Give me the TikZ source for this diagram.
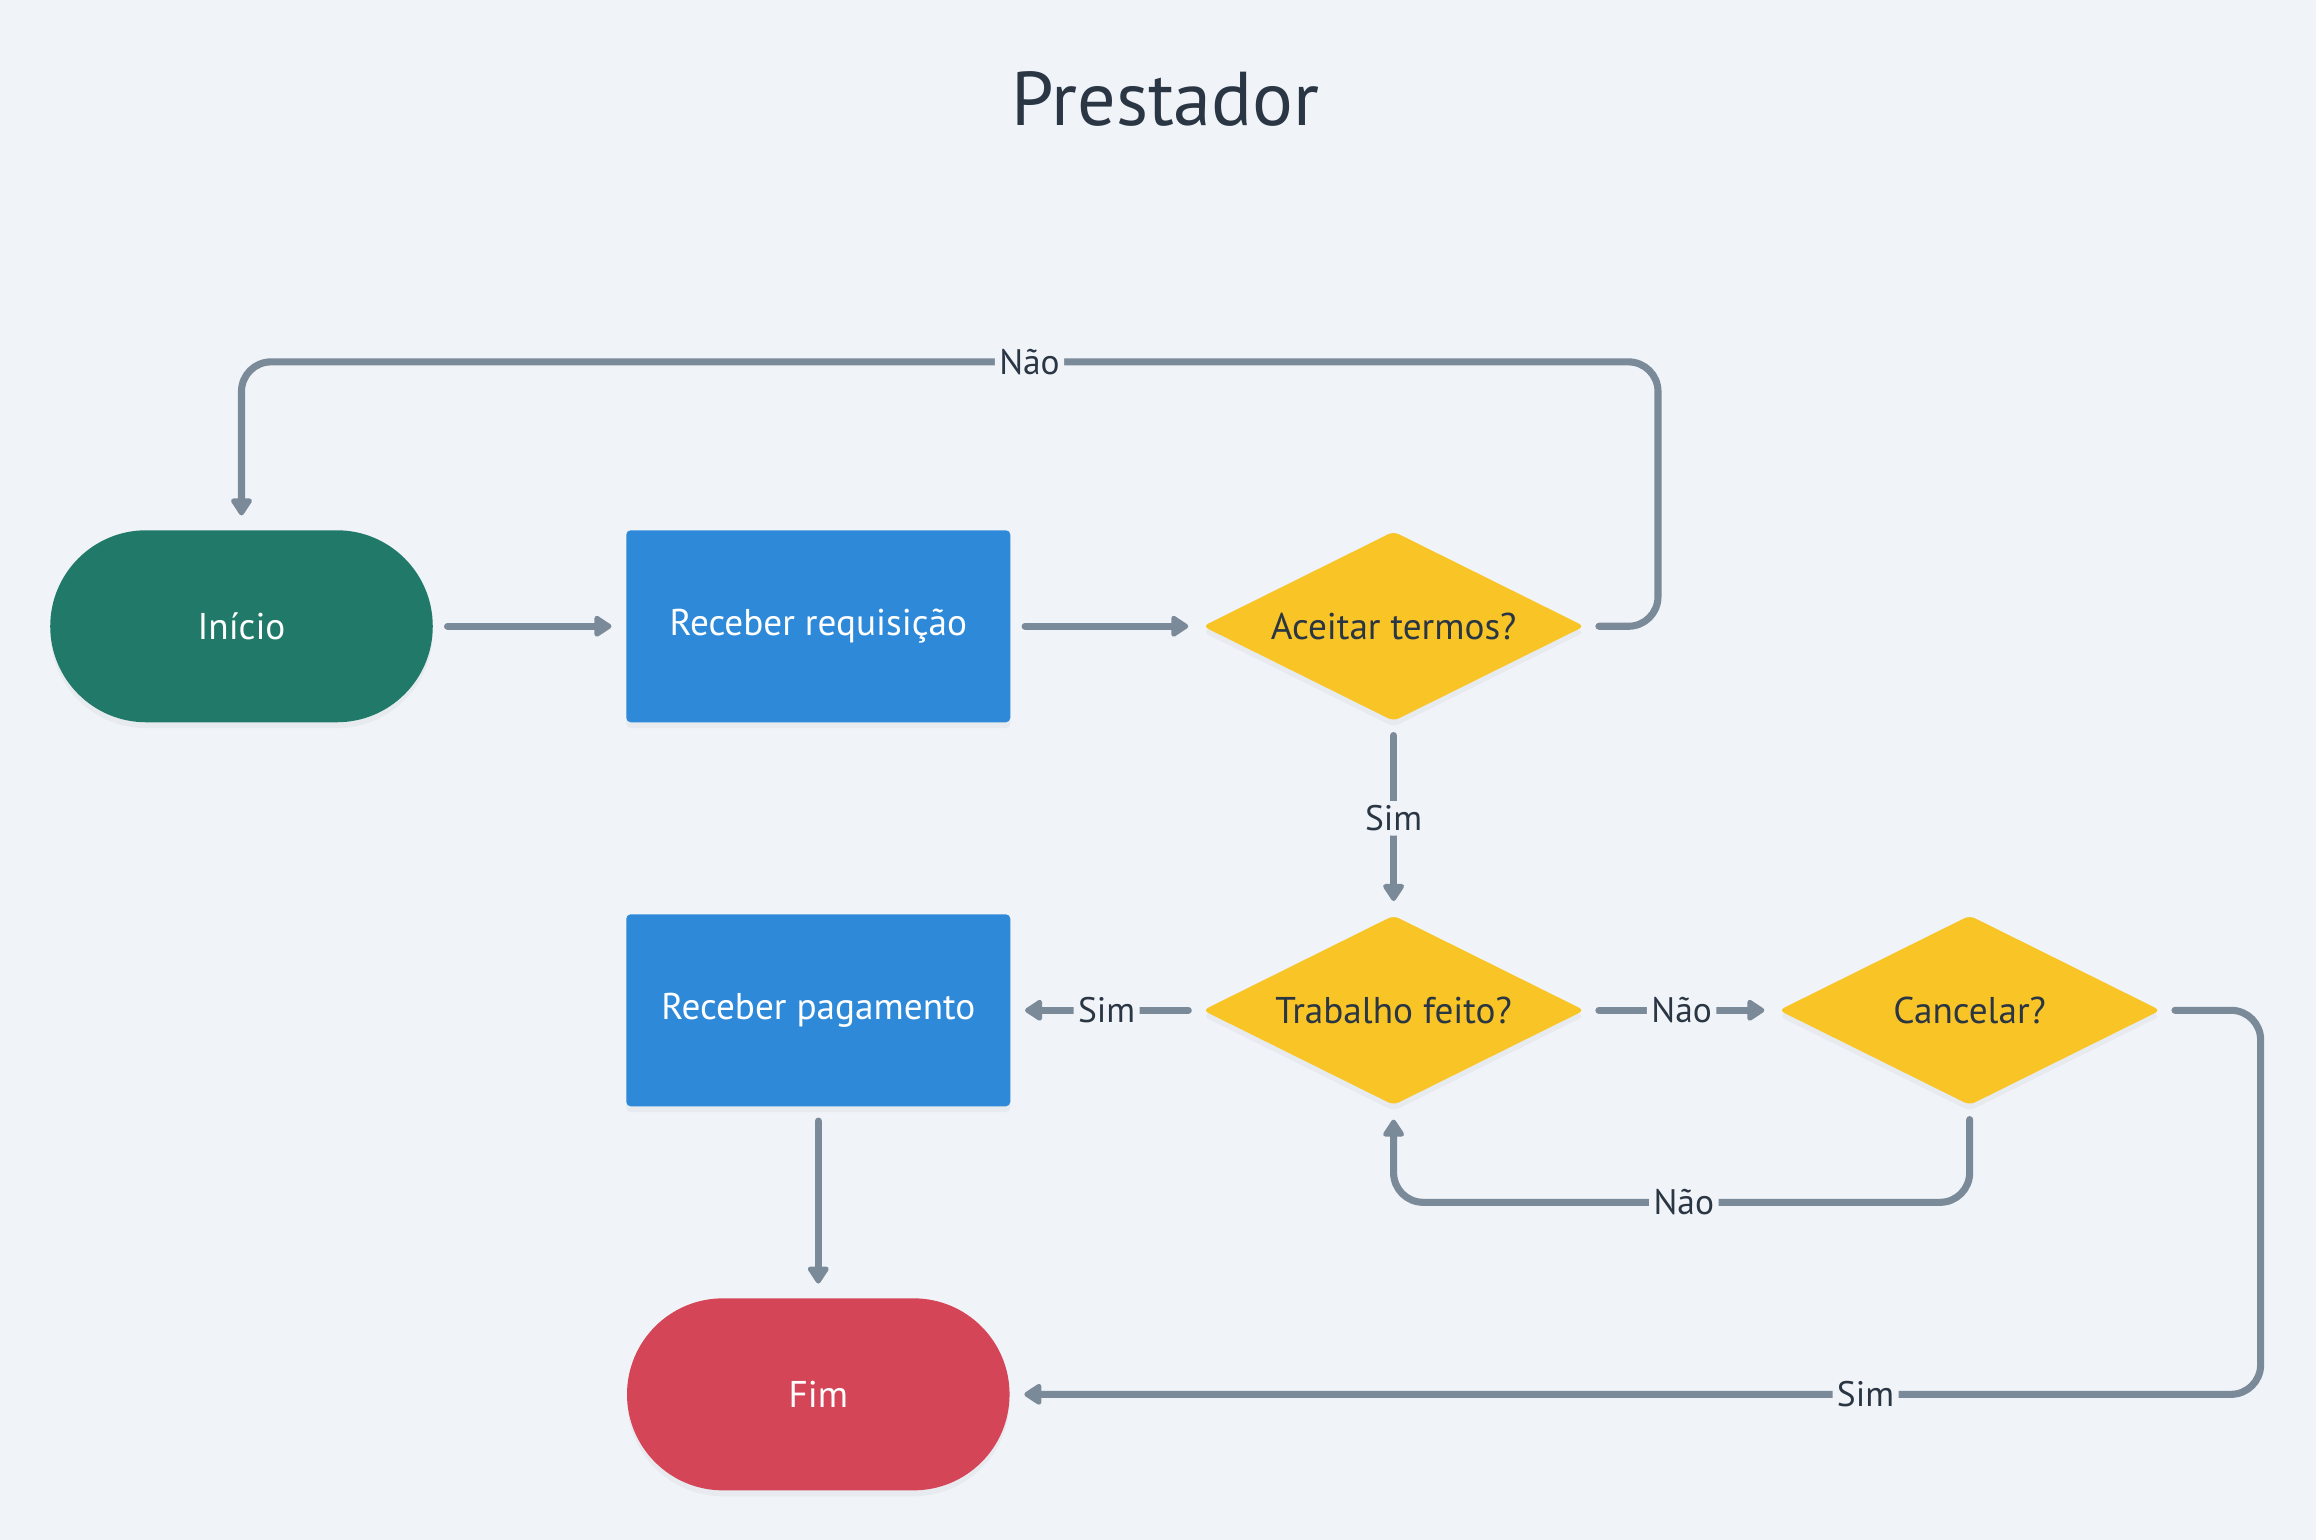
\documentclass[tikz,border=0pt]{standalone}
\usepackage{fontspec}
\setmainfont{PT Sans}
\usetikzlibrary{shapes.geometric,arrows.meta,shadows}

\definecolor{bgcolor}{HTML}{F0F4F8}
\definecolor{textcolor}{HTML}{2B3644}
\definecolor{linecolor}{HTML}{7B8A99}
\definecolor{startcolor}{HTML}{217A69}
\definecolor{processcolor}{HTML}{2E8AD9}
\definecolor{decisioncolor}{HTML}{F8C426}
\definecolor{endcolor}{HTML}{D44558}

\begin{document}
\begin{tikzpicture}[x=0.5pt,y=-0.5pt,
  base/.style={outer sep=5pt, inner sep=0pt, font=\fontsize{12.6}{15}\selectfont,
    drop shadow={opacity=0.08, shadow xshift=0pt, shadow yshift=-2pt}},
  terminal/.style={base, rectangle, rounded corners=32.5pt, minimum width=129.5pt,
    minimum height=65pt, text=white},
  process/.style={base, rectangle, rounded corners=1.5pt, fill=processcolor,
    minimum width=130pt, minimum height=65pt, text=white},
  decision/.style={base, diamond, aspect=2, rounded corners=2pt, fill=decisioncolor,
    minimum width=132pt, minimum height=67pt, outer sep=3.5pt, text=textcolor},
  flow/.style={draw=linecolor, line width=2.4pt, line cap=round, rounded corners=10pt,
    -{Triangle[length=6.5pt,width=8pt,round]}},
  lbl/.style={fill=bgcolor, draw=bgcolor, line width=1pt, inner sep=1pt, text=textcolor,
    font=\fontsize{12}{14}\selectfont}
]
  % Background
  \fill[bgcolor] (0,0) rectangle (1568,1042.6);

  % Title
  \node[text=textcolor, font=\fontsize{25.8}{31}\selectfont] (titulo) at (789,67) {Prestador};

  % Nodes
  \node[terminal, fill=startcolor] (inicio) at (163.5,424) {Início};
  \node[process] (requisicao) at (554,424) {Receber requisição};
  \node[decision] (aceitar) at (943.5,424) {Aceitar termos?};
  \node[decision] (trabalho) at (943.5,684) {Trabalho feito?};
  \node[decision] (cancelar) at (1333.5,684) {Cancelar?};
  \node[process] (pagamento) at (554,684) {Receber pagamento};
  \node[terminal, fill=endcolor] (fim) at (554,944) {Fim};

  % Label points on the loops
  \coordinate (naoTopo) at (697,245);
  \coordinate (naoVolta) at (1140,814);
  \coordinate (simFim) at (1263,944);

  % Connectors
  \draw[flow] (inicio.east) -- (requisicao.west);
  \draw[flow] (requisicao.east) -- (aceitar.west);
  \draw[flow] (aceitar.east) -- ++(40,0) |- (naoTopo) node[lbl] {Não} -| (inicio.north);
  \draw[flow] (aceitar.south) -- node[lbl] {Sim} (trabalho.north);
  \draw[flow] (trabalho.west) -- node[lbl] {Sim} (pagamento.east);
  \draw[flow] (trabalho.east) -- node[lbl] {Não} (cancelar.west);
  \draw[flow] (cancelar.south) |- (naoVolta) node[lbl] {Não} -| (trabalho.south);
  \draw[flow] (cancelar.east) -- ++(58,0) |- (simFim) node[lbl] {Sim} -- (fim.east);
  \draw[flow] (pagamento.south) -- (fim.north);
\end{tikzpicture}
\end{document}
